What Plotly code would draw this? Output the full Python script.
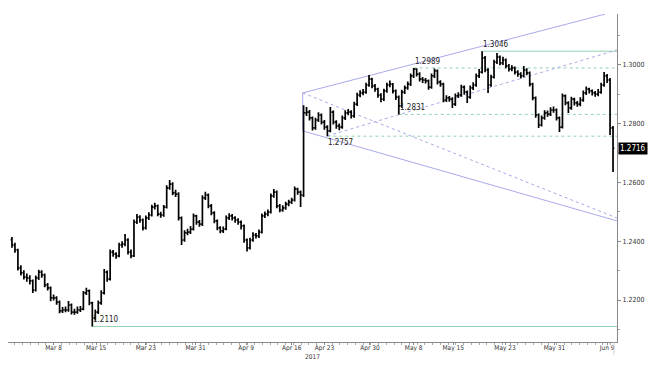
import plotly.graph_objects as go

# ---------------- data (GBP/USD bars) ----------------
bar_index = list(range(203))

opens = [1.2405, 1.2387, 1.2370, 1.2309, 1.2292, 1.2278, 1.2275, 1.2265, 1.2234, 1.2275,
         1.2295, 1.2285, 1.2251, 1.2241, 1.2207, 1.2207, 1.2193, 1.2163, 1.2166, 1.2166,
         1.2183, 1.2159, 1.2159, 1.2166, 1.2169, 1.2224, 1.2231, 1.2190, 1.2139, 1.2159,
         1.2190, 1.2224, 1.2295, 1.2271, 1.2363, 1.2356, 1.2350, 1.2387, 1.2390, 1.2404,
         1.2363, 1.2350, 1.2465, 1.2482, 1.2472, 1.2445, 1.2479, 1.2489, 1.2516, 1.2520,
         1.2492, 1.2489, 1.2516, 1.2581, 1.2594, 1.2564, 1.2560, 1.2479, 1.2404, 1.2428,
         1.2431, 1.2441, 1.2486, 1.2465, 1.2458, 1.2547, 1.2557, 1.2520, 1.2496, 1.2469,
         1.2445, 1.2435, 1.2441, 1.2479, 1.2486, 1.2479, 1.2472, 1.2465, 1.2452, 1.2404,
         1.2377, 1.2404, 1.2421, 1.2418, 1.2431, 1.2486, 1.2492, 1.2499, 1.2554, 1.2567,
         1.2520, 1.2506, 1.2513, 1.2526, 1.2533, 1.2540, 1.2577, 1.2567, 1.2557, 1.2836,
         1.2839, 1.2819, 1.2785, 1.2812, 1.2829, 1.2805, 1.2788, 1.2775, 1.2839, 1.2805,
         1.2792, 1.2788, 1.2819, 1.2836, 1.2839, 1.2826, 1.2866, 1.2897, 1.2904, 1.2907,
         1.2931, 1.2951, 1.2928, 1.2917, 1.2897, 1.2883, 1.2911, 1.2931, 1.2934, 1.2911,
         1.2890, 1.2860, 1.2907, 1.2921, 1.2934, 1.2962, 1.2985, 1.2968, 1.2951, 1.2948,
         1.2945, 1.2924, 1.2962, 1.2979, 1.2941, 1.2934, 1.2880, 1.2887, 1.2883, 1.2866,
         1.2894, 1.2897, 1.2924, 1.2907, 1.2890, 1.2921, 1.2931, 1.2962, 1.2975, 1.3023,
         1.2982, 1.2931, 1.2958, 1.3009, 1.3026, 1.3006, 1.3016, 1.2996, 1.2985, 1.2989,
         1.2975, 1.2968, 1.2962, 1.2982, 1.2972, 1.2934, 1.2887, 1.2829, 1.2795, 1.2819,
         1.2836, 1.2832, 1.2846, 1.2846, 1.2819, 1.2788, 1.2894, 1.2870, 1.2853, 1.2883,
         1.2870, 1.2866, 1.2880, 1.2904, 1.2917, 1.2911, 1.2904, 1.2900, 1.2907, 1.2931,
         1.2962, 1.2948, 1.2785]

highs = [1.2414, 1.2395, 1.2374, 1.2318, 1.2301, 1.2290, 1.2284, 1.2270, 1.2283, 1.2303,
         1.2301, 1.2290, 1.2258, 1.2246, 1.2219, 1.2213, 1.2198, 1.2176, 1.2178, 1.2197,
         1.2188, 1.2170, 1.2178, 1.2180, 1.2231, 1.2242, 1.2236, 1.2194, 1.2168, 1.2198,
         1.2233, 1.2305, 1.2300, 1.2372, 1.2370, 1.2362, 1.2395, 1.2400, 1.2424, 1.2410,
         1.2372, 1.2474, 1.2492, 1.2488, 1.2477, 1.2487, 1.2498, 1.2524, 1.2531, 1.2525,
         1.2500, 1.2523, 1.2590, 1.2608, 1.2600, 1.2575, 1.2566, 1.2484, 1.2437, 1.2442,
         1.2452, 1.2494, 1.2490, 1.2472, 1.2556, 1.2568, 1.2562, 1.2526, 1.2502, 1.2474,
         1.2451, 1.2450, 1.2487, 1.2495, 1.2492, 1.2485, 1.2478, 1.2470, 1.2457, 1.2409,
         1.2412, 1.2430, 1.2428, 1.2440, 1.2494, 1.2501, 1.2508, 1.2562, 1.2577, 1.2572,
         1.2526, 1.2522, 1.2534, 1.2541, 1.2548, 1.2586, 1.2582, 1.2572, 1.2862, 1.2856,
         1.2846, 1.2824, 1.2820, 1.2838, 1.2834, 1.2812, 1.2794, 1.2856, 1.2844, 1.2811,
         1.2800, 1.2827, 1.2845, 1.2849, 1.2845, 1.2874, 1.2905, 1.2913, 1.2917, 1.2939,
         1.2965, 1.2956, 1.2934, 1.2922, 1.2903, 1.2918, 1.2939, 1.2946, 1.2938, 1.2916,
         1.2895, 1.2915, 1.2929, 1.2943, 1.2970, 1.2989, 1.2988, 1.2974, 1.2958, 1.2955,
         1.2950, 1.2970, 1.2987, 1.2984, 1.2947, 1.2939, 1.2896, 1.2894, 1.2889, 1.2902,
         1.2906, 1.2932, 1.2929, 1.2912, 1.2929, 1.2940, 1.2970, 1.2985, 1.3046, 1.3030,
         1.2988, 1.2966, 1.3017, 1.3040, 1.3031, 1.3027, 1.3021, 1.3002, 1.2998, 1.2994,
         1.2981, 1.2974, 1.2996, 1.2988, 1.2977, 1.2939, 1.2892, 1.2834, 1.2827, 1.2845,
         1.2844, 1.2855, 1.2858, 1.2851, 1.2824, 1.2902, 1.2899, 1.2876, 1.2891, 1.2888,
         1.2877, 1.2889, 1.2912, 1.2926, 1.2922, 1.2916, 1.2911, 1.2917, 1.2939, 1.2975,
         1.2968, 1.2955, 1.2792]

lows = [1.2378, 1.2361, 1.2300, 1.2283, 1.2270, 1.2262, 1.2253, 1.2224, 1.2229, 1.2268,
        1.2276, 1.2243, 1.2232, 1.2196, 1.2198, 1.2184, 1.2155, 1.2156, 1.2158, 1.2160,
        1.2151, 1.2150, 1.2153, 1.2159, 1.2165, 1.2217, 1.2182, 1.2110, 1.2130, 1.2152,
        1.2184, 1.2219, 1.2262, 1.2266, 1.2347, 1.2340, 1.2345, 1.2378, 1.2383, 1.2355,
        1.2342, 1.2346, 1.2458, 1.2463, 1.2436, 1.2440, 1.2472, 1.2484, 1.2508, 1.2485,
        1.2480, 1.2483, 1.2511, 1.2575, 1.2556, 1.2550, 1.2470, 1.2387, 1.2398, 1.2420,
        1.2424, 1.2436, 1.2456, 1.2449, 1.2452, 1.2540, 1.2512, 1.2488, 1.2461, 1.2437,
        1.2427, 1.2428, 1.2437, 1.2472, 1.2470, 1.2463, 1.2456, 1.2440, 1.2395, 1.2365,
        1.2372, 1.2398, 1.2409, 1.2411, 1.2426, 1.2479, 1.2485, 1.2494, 1.2548, 1.2512,
        1.2498, 1.2500, 1.2507, 1.2519, 1.2526, 1.2535, 1.2558, 1.2516, 1.2550, 1.2826,
        1.2810, 1.2776, 1.2779, 1.2805, 1.2797, 1.2779, 1.2757, 1.2770, 1.2797, 1.2782,
        1.2777, 1.2782, 1.2812, 1.2828, 1.2817, 1.2820, 1.2860, 1.2889, 1.2896, 1.2901,
        1.2925, 1.2920, 1.2908, 1.2888, 1.2872, 1.2877, 1.2905, 1.2923, 1.2902, 1.2880,
        1.2831, 1.2854, 1.2900, 1.2915, 1.2928, 1.2955, 1.2960, 1.2943, 1.2938, 1.2936,
        1.2915, 1.2918, 1.2955, 1.2933, 1.2925, 1.2872, 1.2873, 1.2874, 1.2853, 1.2860,
        1.2887, 1.2891, 1.2898, 1.2870, 1.2884, 1.2914, 1.2925, 1.2955, 1.2970, 1.2974,
        1.2904, 1.2925, 1.2953, 1.3002, 1.2998, 1.2999, 1.2988, 1.2977, 1.2978, 1.2967,
        1.2959, 1.2953, 1.2957, 1.2964, 1.2926, 1.2879, 1.2820, 1.2785, 1.2790, 1.2813,
        1.2823, 1.2826, 1.2837, 1.2810, 1.2771, 1.2783, 1.2862, 1.2836, 1.2847, 1.2861,
        1.2857, 1.2859, 1.2874, 1.2897, 1.2902, 1.2895, 1.2891, 1.2893, 1.2901, 1.2925,
        1.2938, 1.2761, 1.2635]

closes = [1.2387, 1.2370, 1.2309, 1.2292, 1.2278, 1.2275, 1.2265, 1.2234, 1.2275, 1.2295,
          1.2285, 1.2251, 1.2241, 1.2207, 1.2207, 1.2193, 1.2163, 1.2166, 1.2166, 1.2183,
          1.2159, 1.2159, 1.2166, 1.2169, 1.2224, 1.2231, 1.2190, 1.2139, 1.2159, 1.2190,
          1.2224, 1.2295, 1.2271, 1.2363, 1.2356, 1.2350, 1.2387, 1.2390, 1.2404, 1.2363,
          1.2350, 1.2465, 1.2482, 1.2472, 1.2445, 1.2479, 1.2489, 1.2516, 1.2520, 1.2492,
          1.2489, 1.2516, 1.2581, 1.2594, 1.2564, 1.2560, 1.2479, 1.2404, 1.2428, 1.2431,
          1.2441, 1.2486, 1.2465, 1.2458, 1.2547, 1.2557, 1.2520, 1.2496, 1.2469, 1.2445,
          1.2435, 1.2441, 1.2479, 1.2486, 1.2479, 1.2472, 1.2465, 1.2452, 1.2404, 1.2377,
          1.2404, 1.2421, 1.2418, 1.2431, 1.2486, 1.2492, 1.2499, 1.2554, 1.2567, 1.2520,
          1.2506, 1.2513, 1.2526, 1.2533, 1.2540, 1.2577, 1.2567, 1.2557, 1.2836, 1.2839,
          1.2819, 1.2785, 1.2812, 1.2829, 1.2805, 1.2788, 1.2775, 1.2839, 1.2805, 1.2792,
          1.2788, 1.2819, 1.2836, 1.2839, 1.2826, 1.2866, 1.2897, 1.2904, 1.2907, 1.2931,
          1.2951, 1.2928, 1.2917, 1.2897, 1.2883, 1.2911, 1.2931, 1.2934, 1.2911, 1.2890,
          1.2860, 1.2907, 1.2921, 1.2934, 1.2962, 1.2985, 1.2968, 1.2951, 1.2948, 1.2945,
          1.2924, 1.2962, 1.2979, 1.2941, 1.2934, 1.2880, 1.2887, 1.2883, 1.2866, 1.2894,
          1.2897, 1.2924, 1.2907, 1.2890, 1.2921, 1.2931, 1.2962, 1.2975, 1.3023, 1.2982,
          1.2931, 1.2958, 1.3009, 1.3026, 1.3006, 1.3016, 1.2996, 1.2985, 1.2989, 1.2975,
          1.2968, 1.2962, 1.2982, 1.2972, 1.2934, 1.2887, 1.2829, 1.2795, 1.2819, 1.2836,
          1.2832, 1.2846, 1.2846, 1.2819, 1.2788, 1.2894, 1.2870, 1.2853, 1.2883, 1.2870,
          1.2866, 1.2880, 1.2904, 1.2917, 1.2911, 1.2904, 1.2900, 1.2907, 1.2931, 1.2962,
          1.2948, 1.2785, 1.2716]

tick_bars = [14, 28.3, 45, 61.7, 78.7, 94, 105, 120.3, 135, 148.3, 165.7, 182.3, 200]
tick_labels = ["Mar 8", "Mar 15", "Mar 23", "Mar 31", "Apr 9", "Apr 16", "Apr 23",
               "Apr 30", "May 8", "May 15", "May 23", "May 31", "Jun 9"]

price_ticks = [1.22, 1.24, 1.26, 1.28, 1.30]

# horizontal support / resistance levels
level_values = [1.2110, 1.2757, 1.2831, 1.2989, 1.3046]
level_start_bars = [27, 106, 130, 135, 158]
level_styles = ["solid", "dash", "dash", "dash", "solid"]

# broadening-formation trend lines: (bar0, price0, bar1, price1, style)
trend_lines = [
    (97.7, 1.2904, 97.7, 1.2775, "solid"),
    (97.7, 1.2904, 199.3, 1.3172, "solid"),
    (97.7, 1.2775, 203.3, 1.2469, "solid"),
    (97.7, 1.2904, 203.3, 1.2479, "dash"),
    (106.0, 1.2758, 203.3, 1.3050, "dash"),
]

last_price = 1.2716
year_label = "2017"

FONT = "DejaVu Sans Condensed, Liberation Sans Narrow, Arial Narrow, sans-serif"
GREEN = "#92d2b4"
PURPLE = "#a9a9ea"

fig = go.Figure()
fig.add_trace(go.Ohlc(
    x=bar_index, open=opens, high=highs, low=lows, close=closes,
    increasing=dict(line=dict(color="black", width=1.7)),
    decreasing=dict(line=dict(color="black", width=1.7)),
    tickwidth=0.45, hoverinfo="skip", showlegend=False,
))

shapes = []
for v, b, st in zip(level_values, level_start_bars, level_styles):
    shapes.append(dict(type="line", xref="x", yref="y", x0=b, x1=203.33, y0=v, y1=v,
                       line=dict(color=GREEN, width=1,
                                 dash="solid" if st == "solid" else "3px,3px"),
                       layer="below"))
for b0, p0, b1, p1, st in trend_lines:
    shapes.append(dict(type="line", xref="x", yref="y", x0=b0, y0=p0, x1=b1, y1=p1,
                       line=dict(color=PURPLE, width=1,
                                 dash="solid" if st == "solid" else "3px,3px"),
                       layer="below"))
# small marker line under the last bar
shapes.append(dict(type="line", xref="x", yref="paper", x0=202.3, x1=202.3, y0=-0.04, y1=0,
                   line=dict(color="#d0d0d0", width=1)))

annotations = []
label_pos = ["bottom", "top", "bottom", "bottom", "bottom"]
for v, b, ya in zip(level_values, level_start_bars, label_pos):
    annotations.append(dict(x=b, y=v, xref="x", yref="y", text=f"{v:.4f}",
                            showarrow=False, xanchor="left", yanchor=ya, xshift=-1,
                            font=dict(family=FONT, size=8, color="#222")))
annotations.append(dict(x=1, y=last_price, xref="paper", yref="y", text=f"{last_price:.4f}",
                        showarrow=False, xanchor="left", yanchor="middle", xshift=1,
                        bgcolor="black", borderpad=1,
                        font=dict(family=FONT, size=8, color="white")))
annotations.append(dict(x=0.5, y=0, xref="paper", yref="paper", text=year_label,
                        showarrow=False, xanchor="center", yanchor="top", yshift=-9,
                        font=dict(family=FONT, size=6.5, color="#333")))

fig.update_layout(
    width=652, height=365,
    margin=dict(l=8, r=30, t=14, b=23),
    paper_bgcolor="white", plot_bgcolor="white",
    shapes=shapes, annotations=annotations,
    font=dict(family=FONT, size=7, color="#333"),
    showlegend=False,
)
fig.update_xaxes(
    range=[-1.333, 203.333], rangeslider_visible=False,
    showgrid=False, zeroline=False,
    showline=True, linecolor="#888", linewidth=1,
    tickmode="array", tickvals=tick_bars, ticktext=tick_labels,
    ticks="outside", ticklen=2, tickcolor="#888", ticklabelstandoff=-3,
    minor=dict(ticks="outside", ticklen=2, tickcolor="#aaa", dtick=2.6, tick0=14),
    tickfont=dict(family=FONT, size=6.5, color="#333"),
)
fig.update_yaxes(
    range=[1.20572, 1.31724], side="right",
    showgrid=False, zeroline=False,
    showline=True, linecolor="#888", linewidth=1,
    tickmode="array", tickvals=price_ticks, ticktext=[f"{t:.4f}" for t in price_ticks],
    ticks="outside", ticklen=3, tickcolor="#888",
    minor=dict(ticks="outside", ticklen=2, tickcolor="#aaa", dtick=0.01, tick0=1.21),
    tickfont=dict(family=FONT, size=7, color="#333"),
)

fig.write_html("out.html", config={"displayModeBar": False})

# remove the browser's default page margin so the figure sits at the window's corner
with open("out.html", encoding="utf-8") as fh:
    html = fh.read()
html = html.replace("<head>", "<head><style>html,body{margin:0;padding:0;overflow:hidden}</style>", 1)
with open("out.html", "w", encoding="utf-8") as fh:
    fh.write(html)
